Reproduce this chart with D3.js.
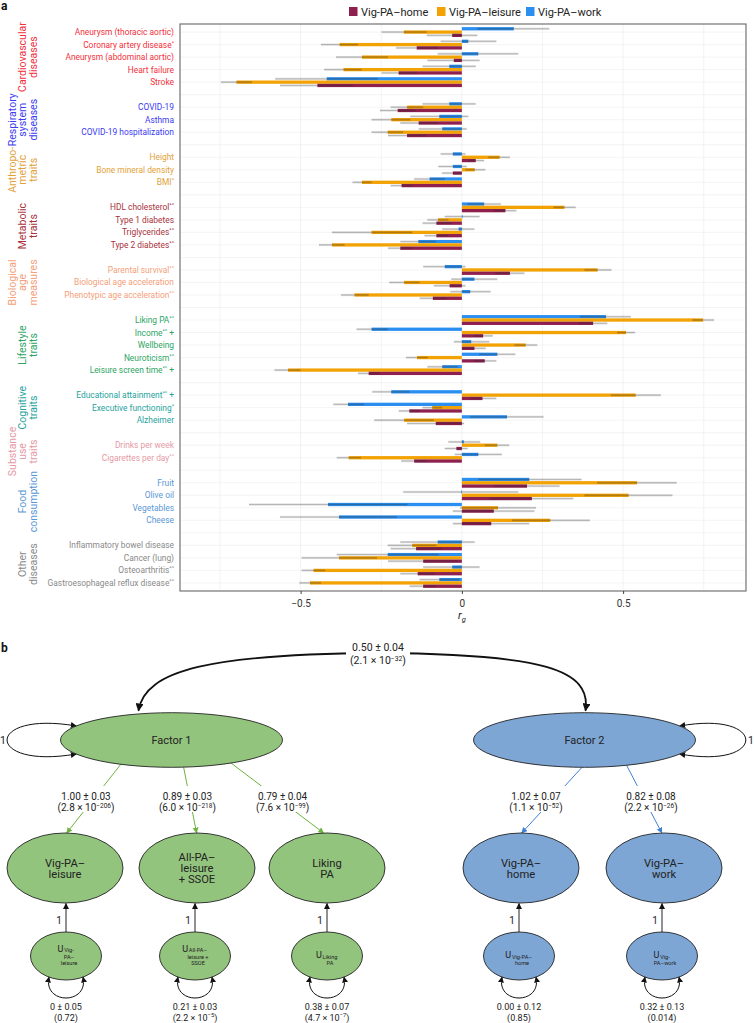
<!DOCTYPE html>
<html><head><meta charset="utf-8">
<script src="https://cdn.jsdelivr.net/npm/d3@7"></script>
<style>
body{margin:0;background:#fff;}
svg{display:block;font-family:Roboto,"Noto Sans",sans-serif;}
</style></head><body>
<svg id="chart" width="754" height="1023"></svg>
<script>
// ---------------- DATA (panel a) ----------------
const groupLines = [["Cardiovascular","diseases"],["Respiratory","system","diseases"],["Anthropo-","metric","traits"],
  ["Metabolic","traits"],["Biological","age","measures"],["Lifestyle","traits"],["Cognitive","traits"],
  ["Substance","use","traits"],["Food","consumption"],["Other","diseases"]];
const groupColors = ["#f2303c","#3b3bf2","#e2a23a","#a8323c","#f4a07a","#2ea565","#1fa3a0","#e59aa6","#5b97d6","#8a8a8a"];
const traits = ["Aneurysm (thoracic aortic)","Coronary artery disease*","Aneurysm (abdominal aortic)","Heart failure","Stroke",
  "COVID-19","Asthma","COVID-19 hospitalization",
  "Height","Bone mineral density","BMI*",
  "HDL cholesterol*^","Type 1 diabetes","Triglycerides*^","Type 2 diabetes*^",
  "Parental survival*^","Biological age acceleration","Phenotypic age acceleration*^",
  "Liking PA*^","Income*^+","Wellbeing","Neuroticism*^","Leisure screen time*^+",
  "Educational attainment*^+","Executive functioning*","Alzheimer",
  "Drinks per week","Cigarettes per day*^",
  "Fruit","Olive oil","Vegetables","Cheese",
  "Inflammatory bowel disease","Cancer (lung)","Osteoarthritis*^","Gastroesophageal reflux disease*^"];
const traitGroup = [0,0,0,0,0, 1,1,1, 2,2,2, 3,3,3,3, 4,4,4, 5,5,5,5,5, 6,6,6, 7,7, 8,8,8,8, 9,9,9,9];
const seriesNames = ["Vig-PA\u2013home","Vig-PA\u2013leisure","Vig-PA\u2013work"];
const seriesColors = ["#8e1f4f","#f3a204","#2a8ff0"];

const homeRg   = [-0.030,-0.140,-0.025,-0.196,-0.448, -0.199,-0.134,-0.170, 0.043,-0.028,-0.187, 0.135,-0.079,-0.079,-0.191, 0.149,-0.038,-0.090, 0.407,0.066,0.039,0.071,-0.289, 0.064,-0.163,-0.081, -0.017,-0.148, 0.202,0.217,0.099,0.091, -0.142,-0.120,-0.137,-0.120];
const homeLo   = [-0.109,-0.204,-0.107,-0.249,-0.564, -0.254,-0.191,-0.229, 0.020,-0.062,-0.221, 0.100,-0.122,-0.116,-0.229, 0.104,-0.087,-0.131, 0.363,0.037,0.003,0.037,-0.322, 0.026,-0.196,-0.170, -0.053,-0.188, 0.100,0.085,-0.028,-0.028, -0.221,-0.229,-0.191,-0.162];
const homeHi   = [0.048,-0.075,0.055,-0.140,-0.338, -0.145,-0.075,-0.110, 0.069,0.000,-0.154, 0.169,-0.033,-0.042,-0.154, 0.194,0.011,-0.047, 0.451,0.096,0.074,0.107,-0.255, 0.107,-0.131,0.007, 0.018,-0.109, 0.303,0.346,0.225,0.209, -0.064,-0.013,-0.084,-0.081];

const leisureRg = [-0.180,-0.379,-0.310,-0.367,-0.699, -0.170,-0.219,-0.230, 0.117,0.040,-0.310, 0.318,-0.074,-0.280,-0.403, 0.421,-0.179,-0.333, 0.748,0.509,0.198,-0.139,-0.539, 0.539,-0.092,-0.179, 0.110,-0.351, 0.543,0.517,0.112,0.274, -0.154,-0.381,-0.460,-0.471];
const leisureLo = [-0.249,-0.437,-0.390,-0.427,-0.747, -0.221,-0.280,-0.280, 0.082,0.011,-0.339, 0.284,-0.107,-0.403,-0.443, 0.380,-0.225,-0.375, 0.715,0.481,0.163,-0.173,-0.581, 0.462,-0.122,-0.272, 0.071,-0.388, 0.419,0.380,-0.006,0.155, -0.230,-0.497,-0.497,-0.504];
const leisureHi = [-0.109,-0.322,-0.229,-0.311,-0.651, -0.120,-0.160,-0.182, 0.149,0.073,-0.280, 0.353,-0.042,-0.154,-0.364, 0.464,-0.131,-0.289, 0.782,0.537,0.234,-0.106,-0.500, 0.617,-0.061,-0.087, 0.147,-0.313, 0.666,0.653,0.230,0.397, -0.079,-0.263,-0.424,-0.437];

const workRg   = [0.161,0.020,0.051,-0.039,-0.419, -0.039,-0.070,-0.061, -0.028,-0.028,-0.100, 0.069,0.002,-0.010,-0.135, -0.053,0.039,0.026, 0.447,-0.280,0.029,0.110,-0.061, -0.219,-0.353,0.140, 0.006,0.051, 0.209,-0.002,-0.415,-0.381, -0.075,-0.230,-0.030,-0.070];
const workLo   = [0.048,-0.066,-0.075,-0.122,-0.579, -0.122,-0.160,-0.134, -0.066,-0.073,-0.148, 0.017,-0.053,-0.061,-0.191, -0.120,-0.033,-0.036, 0.366,-0.327,-0.025,0.054,-0.107, -0.278,-0.399,0.026, -0.042,-0.022, 0.051,-0.182,-0.660,-0.564, -0.191,-0.388,-0.120,-0.131];
const workHi   = [0.271,0.107,0.175,0.043,-0.261, 0.043,0.020,0.015, 0.011,0.015,-0.053, 0.121,0.055,0.039,-0.081, 0.011,0.110,0.089, 0.524,-0.230,0.085,0.166,-0.013, -0.163,-0.303,0.253, 0.057,0.124, 0.371,0.175,-0.169,-0.202, 0.040,-0.072,0.055,-0.008];

const xTicks = [-0.5, 0, 0.5];
const xTickLabels = ["\u22120.5","0","0.5"];

// ---------------- DATA (panel b) ----------------
const factorNames = ["Factor 1","Factor 2"];
const factorCov = "0.50 \u00b1 0.04";
const factorCovP = ["2.1","\u221232"];
const obsLines = [["Vig-PA\u2013","leisure"],["All-PA\u2013","leisure","+ SSOE"],["Liking","PA"],["Vig-PA\u2013","home"],["Vig-PA\u2013","work"]];
const obsFactor = [0,0,0,1,1];
const loadings = ["1.00 \u00b1 0.03","0.89 \u00b1 0.03","0.79 \u00b1 0.04","1.02 \u00b1 0.07","0.82 \u00b1 0.08"];
const loadingP = [["2.8","\u2212206"],["6.0","\u2212218"],["7.6","\u221299"],["1.1","\u221252"],["2.2","\u221226"]];
const uSubLines = [["Vig-","PA\u2013","leisure"],["All-PA\u2013","leisure +","SSOE"],["Liking","PA"],["Vig-PA\u2013","home"],["Vig-","PA\u2013work"]];
const residVar = ["0 \u00b1 0.05","0.21 \u00b1 0.03","0.38 \u00b1 0.07","0.00 \u00b1 0.12","0.32 \u00b1 0.13"];
const residP = [["0.72",null],["2.2","\u22125"],["4.7","\u22127"],["0.85",null],["0.014",null]];

(function(){
// ---------------- PANEL A ----------------
const svg = d3.select("#chart");
const x = d3.scaleLinear().domain([-0.874, 0.881]).range([180, 746]);
const slots = [];
traits.forEach((t,i)=>{ if(i>0 && traitGroup[i]!==traitGroup[i-1]) slots.push("gap"+i); slots.push("t"+i); });
const y = d3.scalePoint().domain(slots).range([24, 591]).padding(0.645);
const pTop=24, pBottom=591, pLeft=180, pRight=746;

svg.append("text").attr("x",1).attr("y",10).attr("font-weight","bold").attr("font-size",12).attr("fill","#111").text("a");

// legend
const legX = [349, 437, 526];
seriesNames.forEach((s,i)=>{
  svg.append("rect").attr("x",legX[i]).attr("y",7).attr("width",8.5).attr("height",9).attr("fill",seriesColors[i]);
  svg.append("text").attr("x",legX[i]+12).attr("y",15.8).attr("font-size",11).attr("fill","#222").text(s);
});

// grid
const grid = svg.append("g");
slots.forEach(s=>grid.append("line").attr("x1",pLeft).attr("x2",pRight).attr("y1",y(s)).attr("y2",y(s)).attr("stroke","#ececec").attr("stroke-width",0.6));
d3.range(-0.75,0.76,0.25).forEach(v=>grid.append("line").attr("x1",x(v)).attr("x2",x(v)).attr("y1",pTop).attr("y2",pBottom).attr("stroke","#ebebeb").attr("stroke-width",0.6));

// bars
const barH = 3.3;
const series = [
  {val:workRg, lo:workLo, hi:workHi, color:seriesColors[2], off:-1},
  {val:leisureRg, lo:leisureLo, hi:leisureHi, color:seriesColors[1], off:0},
  {val:homeRg, lo:homeLo, hi:homeHi, color:seriesColors[0], off:1}
];
const barsG = svg.append("g");
series.forEach(s=>{
  traits.forEach((t,i)=>{
    const yc = y("t"+i) + s.off*barH;
    const v = s.val[i];
    barsG.append("rect").attr("x",Math.min(x(0),x(v))).attr("width",Math.max(0.6,Math.abs(x(v)-x(0))))
      .attr("y",yc-barH/2).attr("height",barH).attr("fill",s.color);
  });
});
series.forEach(s=>{
  traits.forEach((t,i)=>{
    const yc = y("t"+i) + s.off*barH;
    barsG.append("rect").attr("x",x(s.lo[i])).attr("width",x(s.hi[i])-x(s.lo[i]))
      .attr("y",yc-barH*0.35).attr("height",barH*0.7).attr("fill","rgba(40,40,40,0.15)");
    barsG.append("line").attr("x1",x(s.lo[i])).attr("x2",x(s.hi[i])).attr("y1",yc).attr("y2",yc)
      .attr("stroke","rgba(40,40,40,0.38)").attr("stroke-width",0.6);
  });
});

// frame
svg.append("rect").attr("x",pLeft).attr("y",pTop).attr("width",pRight-pLeft).attr("height",pBottom-pTop)
  .attr("fill","none").attr("stroke","#666").attr("stroke-width",1.1);

// axis
const ax = svg.append("g").attr("transform",`translate(0,${pBottom})`)
  .call(d3.axisBottom(x).tickValues(xTicks).tickSize(3).tickPadding(6).tickFormat((d,i)=>xTickLabels[i]));
ax.select(".domain").remove();
ax.selectAll("line").attr("stroke","#444");
ax.selectAll("text").attr("font-size",10).attr("fill","#333").attr("font-family","Roboto");
const rt = svg.append("text").attr("x",x(0)).attr("y",619).attr("text-anchor","middle").attr("font-size",11).attr("fill","#222").attr("font-style","italic");
rt.append("tspan").text("r");
rt.append("tspan").attr("font-size",7.5).attr("dy",2.5).text("g");

// row labels
traits.forEach((t,i)=>{
  const m = t.match(/^(.*?)(\*\^|\*)?(\+)?$/);
  const tx = svg.append("text").attr("x",174).attr("y",y("t"+i)+3).attr("text-anchor","end")
    .attr("font-size",8.4).attr("fill",groupColors[traitGroup[i]]);
  tx.append("tspan").text(m[1]);
  if(m[2]) tx.append("tspan").attr("font-size",5.5).attr("dy",-3).text(m[2]);
  if(m[3]) tx.append("tspan").attr("dy",m[2]?3:0).text(" +");
});

// group labels
groupLines.forEach((lines,g)=>{
  const idx = traitGroup.map((d,i)=>d===g?i:-1).filter(i=>i>=0);
  const yc = (y("t"+idx[0]) + y("t"+idx[idx.length-1]))/2;
  const n = lines.length;
  lines.forEach((ln,k)=>{
    const xx = 33 - (n-1-k)*10.5;
    svg.append("text").attr("transform",`translate(${xx},${yc}) rotate(-90)`).attr("text-anchor","middle")
      .attr("dominant-baseline","central").attr("font-size",10.5).attr("fill",groupColors[g]).text(ln);
  });
});

// ---------------- PANEL B ----------------
svg.append("text").attr("x",1).attr("y",652).attr("font-weight","bold").attr("font-size",12).attr("fill","#111").text("b");
const defs = svg.append("defs");
function marker(id,color,size){
  defs.append("marker").attr("id",id).attr("viewBox","0 0 10 10").attr("refX",9).attr("refY",5)
    .attr("markerWidth",size).attr("markerHeight",size).attr("markerUnits","userSpaceOnUse").attr("orient","auto-start-reverse")
    .append("path").attr("d","M0,0 L10,5 L0,10 z").attr("fill",color);
}
marker("mk","#111",6); marker("mkBig","#111",8); marker("mkG","#6db33f",6); marker("mkB","#3f80d4",6);

const L = { // layout
  fac:[{cx:171.5,cy:740},{cx:584.5,cy:740}], frx:111, fry:27.3,
  obs:[65,197,327,521,664], ocy:868, orx:58, ory:35,
  ucx:[66,195,327,519,662], ucy:956, urx:35.5, ury:24,
  loadStartX:[120.8,183.6,231,582,626.6], loadEndX:[66.7,196.6,323.7,521.7,661.8],
  loadLabelX:[86,187.4,282.6,536,651]
};
const facFill = ["#93c47d","#7da6d5"], lineCol=["#6db33f","#3f80d4"], mk=["mkG","mkB"];
const ellY = (cx,cy,rx,ry,px,sign)=> cy + sign*ry*Math.sqrt(Math.max(0,1-((px-cx)/rx)**2));

function pText(g,xx,yy,mant,exp,fs){
  const t = g.append("text").attr("x",xx).attr("y",yy).attr("text-anchor","middle").attr("font-size",fs).attr("fill","#222");
  if(exp===null){ t.text("("+mant+")"); return t; }
  t.append("tspan").text("("+mant+" \u00d7 10");
  t.append("tspan").attr("font-size",fs*0.65).attr("dy",-3.5).text(exp);
  t.append("tspan").attr("dy",3.5).text(")");
  return t;
}
function labelBox(g,xx,y1,y2,w){
  g.append("rect").attr("x",xx-w/2).attr("y",y1).attr("width",w).attr("height",y2-y1).attr("fill","#fff");
}

const pb = svg.append("g");
const f1=L.fac[0], f2=L.fac[1];
pb.append("path").attr("d",`M${f1.cx-33},${f1.cy-L.fry-2} C${f1.cx-27},${f1.cy-70} ${f1.cx+40},${f1.cy-86} ${(f1.cx+f2.cx)/2},${f1.cy-87} C${f2.cx-40},${f1.cy-86} ${f2.cx+7},${f1.cy-70} ${f2.cx+1},${f2.cy-L.fry-2}`)
  .attr("fill","none").attr("stroke","#111").attr("stroke-width",1.8).attr("marker-start","url(#mkBig)").attr("marker-end","url(#mkBig)");
const cxm=(f1.cx+f2.cx)/2;
labelBox(pb,cxm,638,666,64);
pb.append("text").attr("x",cxm).attr("y",651).attr("text-anchor","middle").attr("font-size",10.5).attr("fill","#222").text(factorCov);
pText(pb,cxm,664,factorCovP[0],factorCovP[1],10.5);

{
  const a=f1.cx-95.3, b=f2.cx+95.3;
  pb.append("path").attr("d",`M${a},${f1.cy-14} C${-16},${f1.cy-30} ${-16},${f1.cy+30} ${a},${f1.cy+14}`)
    .attr("fill","none").attr("stroke","#111").attr("stroke-width",1).attr("marker-start","url(#mk)").attr("marker-end","url(#mk)");
  pb.append("path").attr("d",`M${b},${f2.cy-14} C${b+88},${f2.cy-30} ${b+88},${f2.cy+30} ${b},${f2.cy+14}`)
    .attr("fill","none").attr("stroke","#111").attr("stroke-width",1).attr("marker-start","url(#mk)").attr("marker-end","url(#mk)");
  pb.append("text").attr("x",0).attr("y",f1.cy+4).attr("font-size",10.5).attr("fill","#222").text("1");
  pb.append("text").attr("x",748).attr("y",f2.cy+4).attr("font-size",10.5).attr("fill","#222").text("1");
}

obsLines.forEach((o,i)=>{
  const f=L.fac[obsFactor[i]];
  const sx=L.loadStartX[i], sy=ellY(f.cx,f.cy,L.frx,L.fry,sx,1);
  const ex=L.loadEndX[i], ey=ellY(L.obs[i],L.ocy,L.orx,L.ory,ex,-1);
  pb.append("line").attr("x1",sx).attr("y1",sy).attr("x2",ex).attr("y2",ey)
    .attr("stroke",lineCol[obsFactor[i]]).attr("stroke-width",1).attr("marker-end",`url(#${mk[obsFactor[i]]})`);
  labelBox(pb,L.loadLabelX[i],786,812,62);
  pb.append("text").attr("x",L.loadLabelX[i]).attr("y",800).attr("text-anchor","middle").attr("font-size",10).attr("fill","#222").text(loadings[i]);
  pText(pb,L.loadLabelX[i],811,loadingP[i][0],loadingP[i][1],10);
});

factorNames.forEach((n,i)=>{
  const f=L.fac[i];
  pb.append("ellipse").attr("cx",f.cx).attr("cy",f.cy).attr("rx",L.frx).attr("ry",L.fry).attr("fill",facFill[i]).attr("stroke","#222").attr("stroke-width",0.9);
  pb.append("text").attr("x",f.cx).attr("y",f.cy+4).attr("text-anchor","middle").attr("font-size",11).attr("fill","#222").text(n);
});

obsLines.forEach((lines,i)=>{
  const fi=obsFactor[i], cx=L.obs[i], ucx=L.ucx[i];
  pb.append("line").attr("x1",ucx).attr("y1",L.ucy-L.ury).attr("x2",ucx).attr("y2",L.ocy+L.ory+0.5)
    .attr("stroke","#222").attr("stroke-width",1).attr("marker-end","url(#mk)");
  pb.append("text").attr("x",ucx-7).attr("y",924).attr("text-anchor","middle").attr("font-size",10).attr("fill","#222").text("1");
  pb.append("ellipse").attr("cx",cx).attr("cy",L.ocy).attr("rx",L.orx).attr("ry",L.ory).attr("fill",facFill[fi]).attr("stroke","#222").attr("stroke-width",0.9);
  const n=lines.length, y0=L.ocy+4-(n-1)*5.5;
  lines.forEach((ln,k)=>pb.append("text").attr("x",cx).attr("y",y0+k*11).attr("text-anchor","middle").attr("font-size",11.2).attr("fill","#222").text(ln));
  pb.append("ellipse").attr("cx",ucx).attr("cy",L.ucy).attr("rx",L.urx).attr("ry",L.ury).attr("fill",facFill[fi]).attr("stroke","#222").attr("stroke-width",0.9);
  const sub=uSubLines[i], m=sub.length, b0=L.ucy+2.5-(m-2)*6.5;
  let minLeft = Infinity;
  sub.forEach((s,k)=>{
    const t = pb.append("text").attr("x",ucx+3).attr("y",b0+k*6.5).attr("text-anchor","middle").attr("font-size",5.6).attr("fill","#222").text(s);
    if(k===0){ const w=t.node().getComputedTextLength(); minLeft = ucx+3-w/2; }
  });
  pb.append("text").attr("x",minLeft-0.8).attr("y",b0-0.5).attr("text-anchor","end").attr("font-size",9).attr("fill","#222").text("U");
  const ex=17, ey=ellY(ucx,L.ucy,L.urx,L.ury,ucx+ex,1);
  pb.append("path").attr("d",`M${ucx-ex},${ey} C${ucx-23},${L.ucy+49} ${ucx+23},${L.ucy+49} ${ucx+ex},${ey}`)
    .attr("fill","none").attr("stroke","#111").attr("stroke-width",1).attr("marker-start","url(#mk)").attr("marker-end","url(#mk)");
  pb.append("text").attr("x",ucx).attr("y",1010).attr("text-anchor","middle").attr("font-size",9).attr("fill","#222").text(residVar[i]);
  pText(pb,ucx,1020.5,residP[i][0],residP[i][1],9);
});
})();
</script>
</body></html>
